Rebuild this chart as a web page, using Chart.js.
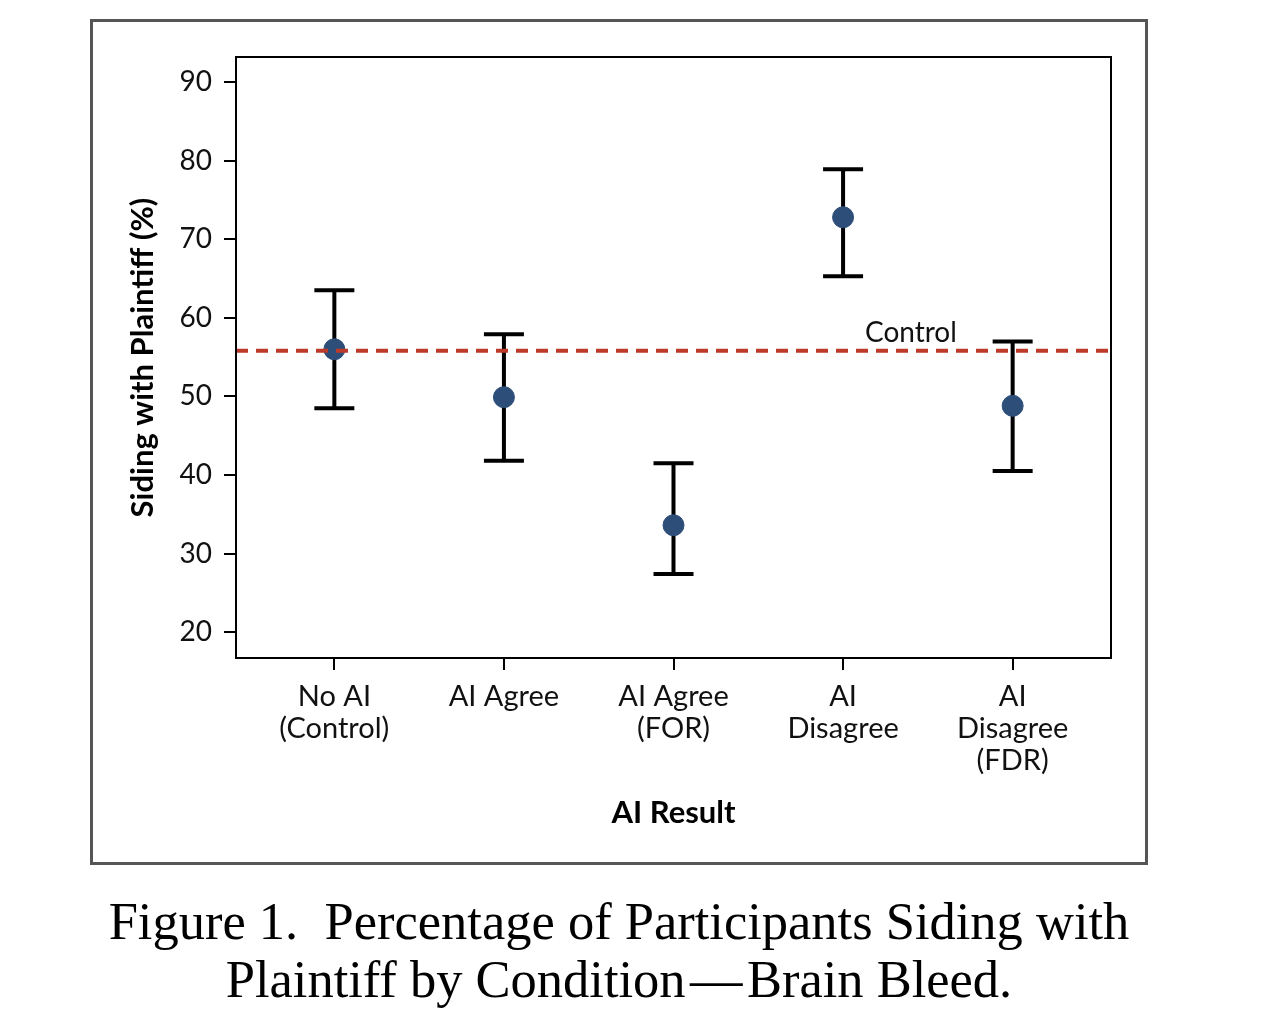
<!DOCTYPE html>
<html>
<head>
<meta charset="utf-8">
<script src="https://cdn.jsdelivr.net/npm/chart.js@4"></script>
<style>
  body { margin:0; background:#fff; }
  #frame { position:absolute; left:90px; top:19px; width:1052px; height:840px; border:3px solid #555; }
  #wrap { position:absolute; left:0; top:0; width:1280px; height:870px; }
  #caption { position:absolute; left:91px; width:1056px; top:892px; text-align:center;
    font-family:"Liberation Serif", serif; font-size:52.5px; line-height:58px; color:#000; white-space:nowrap; }
</style>
</head>
<body>
<div id="frame"></div>
<div id="wrap"><canvas id="chart"></canvas></div>
<div id="caption">Figure 1.&nbsp; Percentage of Participants Siding with<br>Plaintiff by Condition&#8202;—&#8202;Brain Bleed.</div>
<script>
// data
const categories = [["No AI","(Control)"], ["AI Agree"], ["AI Agree","(FOR)"], ["AI","Disagree"], ["AI","Disagree","(FDR)"]];
const pct   = [56.0, 49.9, 33.6, 72.8, 48.8];
const lower = [48.5, 41.8, 27.4, 65.3, 40.5];
const upper = [63.5, 57.9, 41.5, 78.9, 57.0];
const controlValue = 55.8;
const yTicks = [20, 30, 40, 50, 60, 70, 80, 90];

const X_MIN = -0.58, X_MAX = 4.58;
const FONT = "Lato";

/** vẽ error bar + khung + nhãn Control */
const errorBars = {
  id: "errorBars",
  beforeDatasetsDraw(chart) {
    const {ctx, scales:{x, y}} = chart;
    ctx.save();
    ctx.strokeStyle = "#000";
    ctx.lineWidth = 4;
    ctx.lineCap = "butt";
    for (let i = 0; i < pct.length; i++) {
      const px = x.getPixelForValue(i);
      const lo = y.getPixelForValue(lower[i]);
      const hi = y.getPixelForValue(upper[i]);
      ctx.beginPath();
      ctx.moveTo(px, lo); ctx.lineTo(px, hi);
      ctx.moveTo(px - 20, lo); ctx.lineTo(px + 20, lo);
      ctx.moveTo(px - 20, hi); ctx.lineTo(px + 20, hi);
      ctx.stroke();
    }
    ctx.restore();
  },
  afterDatasetsDraw(chart) {
    const {ctx, chartArea:a, scales:{x, y}} = chart;
    ctx.save();
    ctx.strokeStyle = "#000";
    ctx.lineWidth = 2;
    ctx.strokeRect(a.left, a.top, a.right - a.left, a.bottom - a.top);
    ctx.fillStyle = "#111";
    ctx.font = "28px " + FONT;
    ctx.textAlign = "center";
    ctx.textBaseline = "alphabetic";
    ctx.fillText("Control", x.getPixelForValue(3.4), y.getPixelForValue(controlValue) - 9);
    ctx.restore();
  }
};

new Chart("chart", {
  type: "scatter",
  data: {
    datasets: [{
      type: "line",
      data: [{x: X_MIN, y: controlValue}, {x: X_MAX, y: controlValue}],
      borderColor: "#bd3a2a",
      borderWidth: 4,
      borderDash: [12, 8],
      pointRadius: 0,
      order: 0
    }, {
      data: pct.map((v, i) => ({x: i, y: v})),
      backgroundColor: "#2d4e78",
      borderColor: "#2d4e78",
      pointRadius: 10.5,
      pointHoverRadius: 10.5,
      order: 1
    }]
  },
  options: {
    responsive: true,
    maintainAspectRatio: false,
    animation: false,
    layout: { padding: { left: 120, right: 169, top: 57, bottom: 0 } },
    plugins: { legend: { display: false }, tooltip: { enabled: false } },
    scales: {
      x: {
        type: "linear",
        min: X_MIN, max: X_MAX,
        afterBuildTicks: s => { s.ticks = categories.map((c, i) => ({value: i})); },
        afterFit: s => { s.height = 212; },
        ticks: {
          callback: v => categories[v],
          color: "#111",
          font: { family: FONT, size: 29, lineHeight: 1.1 },
          padding: 11,
          maxRotation: 0,
          autoSkip: false
        },
        grid: { drawOnChartArea: false, drawTicks: true, tickLength: 12, color: "#000", lineWidth: 2 },
        border: { display: true, color: "#000", width: 2 },
        title: { display: true, text: "AI Result", color: "#000",
          font: { family: FONT, size: 31, weight: "bold" }, padding: { top: 0, bottom: 38 } }
      },
      y: {
        min: 16.7, max: 93.2,
        afterBuildTicks: s => { s.ticks = yTicks.map(v => ({value: v})); },
        afterFit: s => { s.width = 116; },
        ticks: { color: "#111", font: { family: FONT, size: 28 }, padding: 12 },
        grid: { drawOnChartArea: false, drawTicks: true, tickLength: 12, color: "#000", lineWidth: 2 },
        border: { display: true, color: "#000", width: 2 },
        title: { display: true, text: "Siding with Plaintiff (%)", color: "#000",
          font: { family: FONT, size: 31, weight: "bold" }, padding: { top: 4, bottom: 0 } }
      }
    }
  },
  plugins: [errorBars]
});
</script>
</body>
</html>
